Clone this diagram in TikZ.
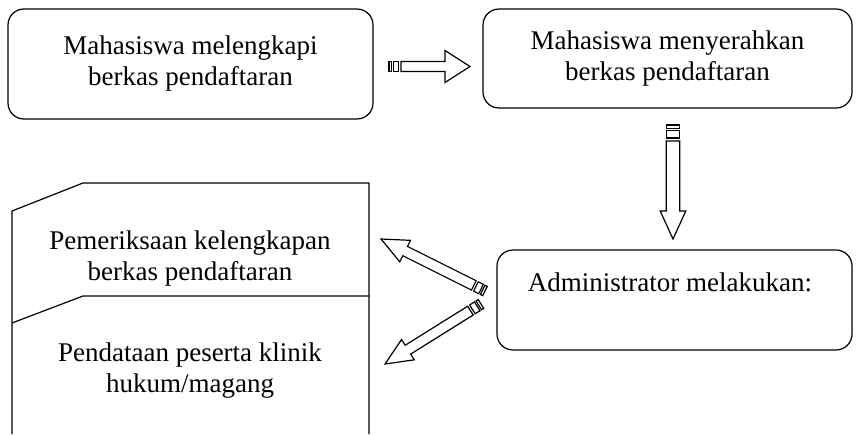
\documentclass[tikz,border=0pt]{standalone}
\usepackage{fontspec}
\setmainfont{Liberation Serif}
\usetikzlibrary{calc}
\tikzset{
  lw/.style={line width=1.2pt},
  rbox/.style={lw, draw, rounded corners=16pt, align=center, inner sep=0pt},
  txt/.style={align=center, inner sep=0pt},
  arrowline/.style={line width=1.2pt, line join=miter},
}
% striped block arrow: #1 from, #2 to, #3 shaft half width, #4 head half width, #5 head length
\newcommand\stripedarrow[5]{%
  \pgfmathanglebetweenpoints{\pgfpointanchor{#1}{center}}{\pgfpointanchor{#2}{center}}%
  \edef\saAng{\pgfmathresult}%
  \pgfpointdiff{\pgfpointanchor{#1}{center}}{\pgfpointanchor{#2}{center}}%
  \pgfgetlastxy{\saDx}{\saDy}%
  \pgfmathveclen{\saDx}{\saDy}\edef\saLen{\pgfmathresult}%
  \pgfmathsetmacro\saBase{\saLen-#5}%
  \pgfmathsetmacro\saSa{0.5*#3}%
  \pgfmathsetmacro\saSb{0.85*#3}%
  \pgfmathsetmacro\saSc{1.95*#3}%
  \pgfmathsetmacro\saSd{2.4*#3}%
  \begin{scope}[shift={(#1)}, rotate=\saAng]
    \draw[arrowline] (0pt,-#3pt) rectangle (\saSa pt,#3pt);
    \draw[arrowline] (\saSb pt,-#3pt) rectangle (\saSc pt,#3pt);
    \draw[arrowline] (\saSd pt,#3pt) -- (\saBase pt,#3pt) -- (\saBase pt,#4pt) -- (\saLen pt,0pt)
      -- (\saBase pt,-#4pt) -- (\saBase pt,-#3pt) -- (\saSd pt,-#3pt) -- cycle;
  \end{scope}}
\begin{document}
\begin{tikzpicture}[x=1pt, y=-1pt, font=\fontsize{27}{31}\selectfont]
\useasboundingbox (0,0) rectangle (859,434);
% boxes
\node[rbox, minimum width=365pt, minimum height=110pt] (b1) at (190.5,64) {Mahasiswa melengkapi\\berkas pendaftaran};
\node[rbox, minimum width=369pt, minimum height=99pt] (b2) at (667.5,58.5) {Mahasiswa menyerahkan\\berkas pendaftaran};
\node[rbox, minimum width=355pt, minimum height=100pt] (b3) at (674.5,300) {};
\node[txt] (b3t) at (670,282) {Administrator melakukan:};
% left stacked shape
\draw[lw] (12,434) -- (12,211) -- (83,183) -- (369,183) -- (369,434);
\draw[lw] (12,323) -- (83,296) -- (369,296);
\node[txt] (t1) at (190,259) {Pemeriksaan kelengkapan\\berkas pendaftaran};
\node[txt] (t2) at (190,371) {Pendataan peserta klinik\\hukum/magang};
% arrow end points
\coordinate (a1s) at (389,66.5);
\coordinate (a1e) at (470,66.5);
\coordinate (a2s) at (673,125);
\coordinate (a2e) at (673,239);
\coordinate (a3s) at (485,291);
\coordinate (a3e) at (381,239);
\coordinate (a4s) at (481,304);
\coordinate (a4e) at (385,364);
\stripedarrow{a1s}{a1e}{5}{16}{25}
\stripedarrow{a2s}{a2e}{6.7}{12.8}{28}
\stripedarrow{a3s}{a3e}{5.2}{12}{27}
\stripedarrow{a4s}{a4e}{5.2}{12}{27}
\end{tikzpicture}
\end{document}
